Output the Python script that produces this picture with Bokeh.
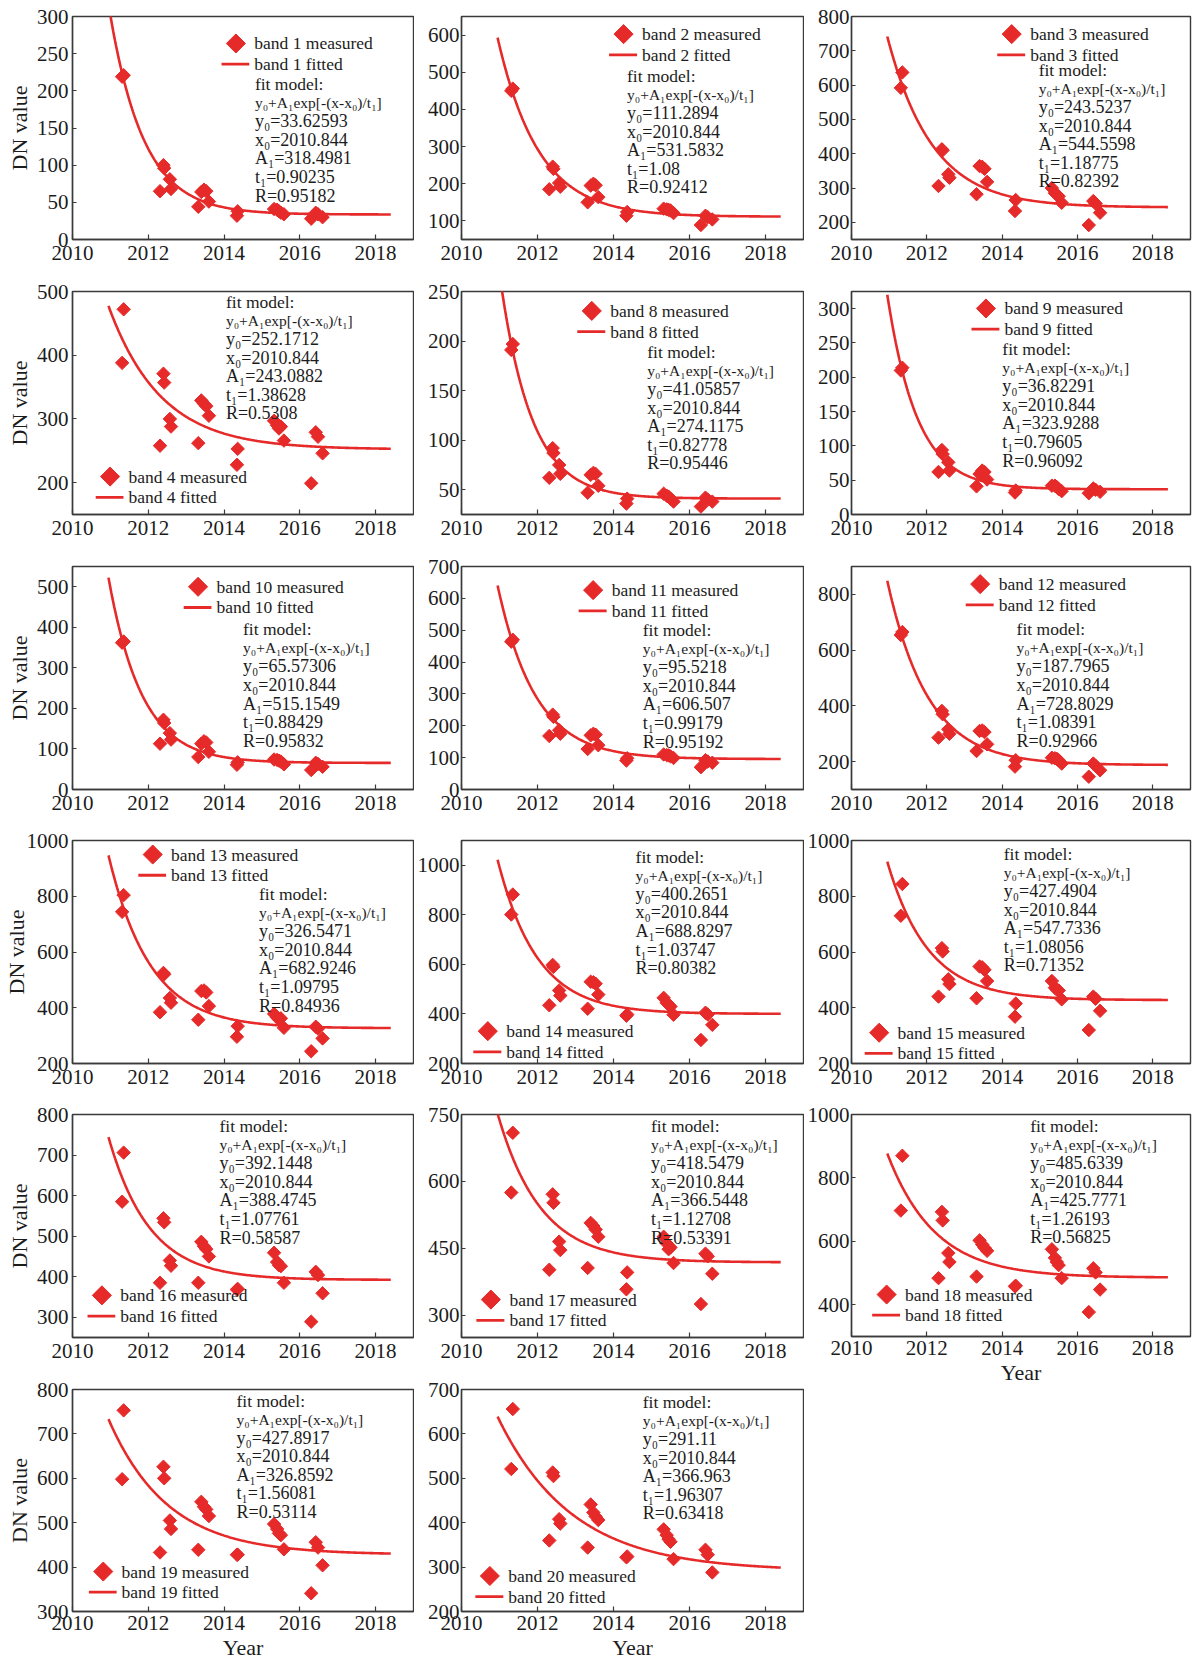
import numpy as np
from bokeh.plotting import figure
from bokeh.layouts import row, column
from bokeh.models import Range1d, FixedTicker
from bokeh.core.properties import value
from bokeh.embed import file_html
from bokeh.resources import INLINE

NAN = float("nan")

# acquisition dates (decimal years) shared by all bands
years = [2011.31, 2011.35, 2012.31, 2012.40, 2012.42, 2012.57, 2012.60,
         2013.32, 2013.40, 2013.47, 2013.53, 2013.60, 2014.34, 2014.36,
         2015.32, 2015.40, 2015.45, 2015.50, 2015.58, 2016.30, 2016.42,
         2016.48, 2016.60]

band1 = [219, 221, 65, 100, 96, 81, 68, 44, 64, 67, 65, 51, 32, 38, 41, 40, 38, 36, 34, 28, 36, 34, 30]
band2 = [450, 456, 185, 246, 240, 202, 192, 150, 195, 200, 196, 164, 114, 124, 133, 131, 130, 128, 121, 89, 114, 110, 104]
band3 = [592, 637, 306, 413, 410, 340, 330, 282, 364, 362, 356, 318, 233, 265, 300, 285, 280, 276, 257, 192, 262, 255, 228]
band4 = [388, 472, 258, 371, 357, 300, 288, 262, 329, 324, 320, 305, 228, 253, 297, 290, 285, 288, 266, 199, 279, 272, 246]
band8 = [191, 197, 62, 92, 87, 75, 66, 47, 65, 67, 66, 54, 36, 41, 46, 44, 43, 41, 38, 33, 42, 40, 38]
band9 = [210, 214, 62, 94, 88, 76, 64, 41, 59, 64, 62, 51, 32, 35, 42, 42, 40, 37, 34, 31, 38, 36, 33]
band10 = [362, 365, 113, 172, 164, 139, 123, 80, 113, 119, 116, 93, 61, 67, 74, 73, 71, 69, 62, 48, 66, 63, 56]
band11 = [464, 470, 168, 235, 228, 186, 175, 127, 170, 175, 172, 139, 91, 98, 110, 108, 107, 104, 99, 70, 92, 88, 84]
band12 = [654, 665, 286, 382, 370, 316, 300, 238, 310, 312, 306, 262, 182, 205, 214, 212, 210, 205, 193, 146, 193, 185, 169]
band13 = [744, 804, 384, 525, 520, 435, 418, 357, 460, 462, 455, 406, 296, 334, 378, 365, 358, 362, 328, 244, 332, 325, 290]
band14 = [801, 882, 435, 598, 590, 495, 474, 421, 530, 528, 522, 478, 393, 398, 465, 445, 437, 430, 397, 295, 405, 398, 356]
band15 = [730, 844, 440, 614, 602, 502, 485, 434, 548, 545, 536, 496, 368, 415, 496, 472, 465, 462, 430, 320, 440, 432, 389]
band16 = [585, 706, 385, 544, 534, 440, 427, 385, 486, 475, 468, 450, 368, 370, 459, 436, 428, 426, 385, 289, 412, 404, 359]
band17 = [575, 709, 402, 571, 552, 465, 446, 406, 507, 500, 492, 476, 358, 396, 476, 461, 448, 452, 417, 325, 438, 432, 393]
band18 = [697, 870, 484, 693, 666, 563, 535, 489, 603, 590, 580, 570, 458, 460, 575, 548, 535, 525, 484, 377, 515, 502, 448]
band19 = [598, 753, 433, 626, 600, 505, 486, 439, 547, 536, 530, 515, 428, 428, 497, 486, 476, 472, 440, 341, 456, 444, 404]
band20 = [521, 656, 360, 513, 505, 408, 398, 344, 441, 423, 414, 406, 322, 324, 385, 372, 363, 357, 318, NAN, 339, 328, 288]

band_ids = [1, 2, 3, 4, 8, 9, 10, 11, 12, 13, 14, 15, 16, 17, 18, 19, 20]
measured = [band1, band2, band3, band4, band8, band9, band10, band11, band12,
            band13, band14, band15, band16, band17, band18, band19, band20]

# fit parameters printed on each panel
fit_x0 = "2010.844"
fit_y0 = ["33.62593", "111.2894", "243.5237", "252.1712", "41.05857", "36.82291",
          "65.57306", "95.5218", "187.7965", "326.5471", "400.2651", "427.4904",
          "392.1448", "418.5479", "485.6339", "427.8917", "291.11"]
fit_A1 = ["318.4981", "531.5832", "544.5598", "243.0882", "274.1175", "323.9288",
          "515.1549", "606.507", "728.8029", "682.9246", "688.8297", "547.7336",
          "388.4745", "366.5448", "425.7771", "326.8592", "366.963"]
fit_t1 = ["0.90235", "1.08", "1.18775", "1.38628", "0.82778", "0.79605",
          "0.88429", "0.99179", "1.08391", "1.09795", "1.03747", "1.08056",
          "1.07761", "1.12708", "1.26193", "1.56081", "1.96307"]
fit_R = ["0.95182", "0.92412", "0.82392", "0.5308", "0.95446", "0.96092",
         "0.95832", "0.95192", "0.92966", "0.84936", "0.80382", "0.71352",
         "0.58587", "0.53391", "0.56825", "0.53114", "0.63418"]

# y axis ranges and ticks
y_lo = [0, 50, 150, 150, 25, 0, 0, 0, 100, 200, 200, 200, 250, 250, 300, 300, 200]
y_hi = [300, 650, 800, 500, 250, 325, 550, 700, 900, 1000, 1100, 1000, 800, 750, 1000, 800, 700]
y_ticks = [
    [0, 50, 100, 150, 200, 250, 300],
    [100, 200, 300, 400, 500, 600],
    [200, 300, 400, 500, 600, 700, 800],
    [200, 300, 400, 500],
    [50, 100, 150, 200, 250],
    [0, 50, 100, 150, 200, 250, 300],
    [0, 100, 200, 300, 400, 500],
    [0, 100, 200, 300, 400, 500, 600, 700],
    [200, 400, 600, 800],
    [200, 400, 600, 800, 1000],
    [200, 400, 600, 800, 1000],
    [200, 400, 600, 800, 1000],
    [300, 400, 500, 600, 700, 800],
    [300, 450, 600, 750],
    [400, 600, 800, 1000],
    [300, 400, 500, 600, 700, 800],
    [200, 300, 400, 500, 600, 700],
]
x_ticks = [2010, 2012, 2014, 2016, 2018]

# ---- layout (positions as fractions of the plot frame, from top-left) ----
# legend label left, legend first row, text block left, text first line
layout_pos = {
    1: (0.533, 0.121, 0.535, 0.303), 2: (0.528, 0.079, 0.484, 0.266),
    3: (0.527, 0.079, 0.552, 0.239), 4: (0.164, 0.830, 0.450, 0.046),
    8: (0.435, 0.087, 0.543, 0.270), 9: (0.451, 0.076, 0.445, 0.258),
    10: (0.422, 0.091, 0.500, 0.281), 11: (0.439, 0.106, 0.530, 0.285),
    12: (0.434, 0.079, 0.487, 0.281), 13: (0.289, 0.063, 0.547, 0.240),
    14: (0.131, 0.855, 0.509, 0.072), 15: (0.136, 0.862, 0.449, 0.060),
    16: (0.140, 0.811, 0.431, 0.052), 17: (0.140, 0.830, 0.554, 0.052),
    18: (0.158, 0.811, 0.527, 0.052), 19: (0.144, 0.820, 0.481, 0.051),
    20: (0.137, 0.840, 0.530, 0.058),
}
grid = [[1, 2, 3], [4, 8, 9], [10, 11, 12], [13, 14, 15], [16, 17, 18], [19, 20]]
col_cfg = [(344, 69, 1), (342, 47, 1), (340, 46, 4)]
row_top = [16, 16, 16, 15, 15, 16]
FH = 223
XMIN, XMAX = 2010, 2019

RED = "#e62a2a"
INK = "#1c1c1c"
FRAME = "#3a3a3a"
FONT = "Liberation Serif"


def make_panel(bid, r, c):
    i = band_ids.index(bid)
    fw, left, right = col_cfg[c]
    year_label = (r == 5) or bid == 18
    bottom = 50 if year_label else 36
    lo, hi = y_lo[i], y_hi[i]
    p = figure(width=left + fw + right, height=row_top[r] + FH + bottom,
               x_range=Range1d(XMIN, XMAX), y_range=Range1d(lo, hi),
               min_border_left=left, min_border_right=right,
               min_border_top=row_top[r], min_border_bottom=bottom,
               output_backend="svg", toolbar_location=None)
    p.background_fill_color = "white"
    p.border_fill_color = "white"
    p.grid.visible = False
    p.outline_line_color = FRAME
    p.outline_line_width = 1.4
    p.outline_line_alpha = 1.0

    for ax in (p.xaxis[0], p.yaxis[0]):
        ax.axis_line_color = FRAME
        ax.axis_line_width = 1.4
        ax.major_tick_line_color = FRAME
        ax.major_tick_line_width = 1.2
        ax.major_tick_out = 0
        ax.minor_tick_line_color = None
        ax.major_label_text_font = FONT
        ax.major_label_text_font_size = "21px"
        ax.major_label_text_color = INK
        ax.axis_label_text_font = FONT
        ax.axis_label_text_font_size = "22px"
        ax.axis_label_text_font_style = "normal"
        ax.axis_label_text_color = INK
    p.xaxis.major_tick_in = 5
    p.yaxis.major_tick_in = 4
    p.xaxis.ticker = FixedTicker(ticks=x_ticks)
    p.yaxis.ticker = FixedTicker(ticks=y_ticks[i])
    p.xaxis.major_label_standoff = 4 if year_label else 6
    p.yaxis.major_label_standoff = 4 if c == 0 else 2
    if c == 0:
        p.yaxis.axis_label = "DN value"
        p.yaxis.axis_label_standoff = -5 if max(y_ticks[i]) >= 1000 else 2
    if year_label:
        p.xaxis.axis_label = "Year"
        p.xaxis.axis_label_standoff = 2

    # measured points
    p.scatter(years, measured[i], marker="square", size=9.5, angle=np.pi / 4,
              fill_color=RED, line_color=RED)
    # fitted curve from the printed fit parameters
    xs = np.linspace(2010.95, 2018.4, 300)
    ys = float(fit_y0[i]) + float(fit_A1[i]) * np.exp(-(xs - float(fit_x0)) / float(fit_t1[i]))
    p.line(xs, ys, line_color=RED, line_width=2.6)

    # legend + fit model text (positions in frame pixels -> data coords)
    lx, ly, tx, ty = layout_pos[bid]
    sx = (XMAX - XMIN) / fw
    sy = (hi - lo) / FH

    def X(px):
        return XMIN + px * sx

    def Y(py):
        return hi - py * sy

    lab_px = lx * fw
    r1 = ly * FH
    r2 = r1 + 20.7
    p.scatter([X(lab_px - 18.5)], [Y(r1)], marker="square", size=13.5, angle=np.pi / 4,
              fill_color=RED, line_color=RED)
    p.segment(x0=[X(lab_px - 33)], y0=[Y(r2)], x1=[X(lab_px - 5)], y1=[Y(r2)],
              line_color=RED, line_width=2.8)
    p.text(x=[X(lab_px), X(lab_px)], y=[Y(r1), Y(r2)],
           text=[f"band {bid} measured", f"band {bid} fitted"],
           text_font=value(FONT), text_font_size="17.5px", text_color=INK,
           text_baseline="middle", text_align="left")

    lines = ["fit model:",
             "y\u2080+A\u2081exp[-(x-x\u2080)/t\u2081]",
             f"y\u2080={fit_y0[i]}",
             f"x\u2080={fit_x0}",
             f"A\u2081={fit_A1[i]}",
             f"t\u2081={fit_t1[i]}",
             f"R={fit_R[i]}"]
    sizes = ["17.5px", "15.5px", "18px", "18px", "18px", "18px", "18px"]
    t_px = tx * fw
    t_py = [ty * FH + k * 18.6 for k in range(len(lines))]
    p.text(x=[X(t_px)] * len(lines), y=[Y(v) for v in t_py], text=lines,
           text_font=value(FONT), text_font_size=sizes, text_color=INK,
           text_baseline="middle", text_align="left")
    return p


cols = [[], [], []]
for r, ids in enumerate(grid):
    for c, bid in enumerate(ids):
        cols[c].append(make_panel(bid, r, c))

root = row(*[column(*cl, spacing=0) for cl in cols], spacing=0)

open("out.html", "w").write(file_html(root, INLINE))
